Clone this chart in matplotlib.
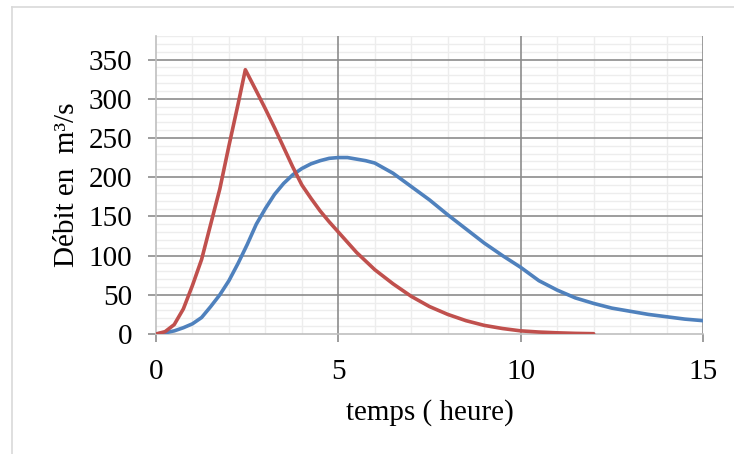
import matplotlib
matplotlib.use("Agg")
import matplotlib.pyplot as plt
from matplotlib.lines import Line2D
from matplotlib.ticker import MultipleLocator

# hydrogramme bleu
t_blue = [0, 0.25, 0.5, 0.75, 1, 1.25, 1.5, 1.75, 2, 2.25, 2.5, 2.75, 3, 3.25,
          3.5, 3.75, 4, 4.25, 4.5, 4.75, 5, 5.25, 5.5, 5.75, 6, 6.5, 7, 7.5,
          8, 8.5, 9, 9.5, 10, 10.5, 11, 11.5, 12, 12.5, 13, 13.5, 14, 14.5, 15]
q_blue = [0, 1.5, 4, 8, 13, 21, 35, 50, 68, 90, 114, 140, 160, 178,
          192, 203, 211, 217, 221, 224, 225, 225, 223, 221, 218, 205, 188, 171,
          152, 134, 116, 100, 85, 68, 56, 46, 39, 33, 29, 25, 22, 19, 17]

# hydrogramme rouge
t_red = [0, 0.25, 0.5, 0.75, 1, 1.25, 1.5, 1.75, 2, 2.25, 2.45, 2.75, 3, 3.25,
         3.5, 3.75, 4, 4.25, 4.5, 4.75, 5, 5.5, 6, 6.5, 7, 7.5, 8, 8.5, 9,
         9.5, 10, 10.5, 11, 11.5, 12]
q_red = [0, 3, 12, 32, 62, 95, 140, 185, 240, 293, 337, 310, 287, 263,
         238, 213, 190, 173, 157, 143, 130, 104, 82, 64, 48, 35, 25, 17, 11,
         7, 4, 2.5, 1.5, 0.8, 0.4]

x_ticks = [0, 5, 10, 15]
y_ticks = [0, 50, 100, 150, 200, 250, 300, 350]

plt.rcParams['font.family'] = ['Liberation Serif', 'DejaVu Serif']

fig = plt.figure(figsize=(7.34, 4.54), dpi=100)
ax = fig.add_axes([156 / 734, 120 / 454, 547 / 734, 298 / 454])

ax.plot(t_blue, q_blue, color='#4F81BD', lw=2.6, solid_joinstyle='round',
        solid_capstyle='round', zorder=3)
ax.plot(t_red, q_red, color='#C0504D', lw=2.6, solid_joinstyle='round',
        solid_capstyle='round', zorder=4)

ax.set_xlim(0, 15)
ax.set_ylim(0, 380)
ax.set_xticks(x_ticks)
ax.set_yticks(y_ticks)
ax.xaxis.set_minor_locator(MultipleLocator(1))
ax.yaxis.set_minor_locator(MultipleLocator(10))

# light minor grid, then the darker major lines on top of it
ax.grid(which='minor', color='#EDEDED', lw=1.0)
ax.grid(which='major', visible=False)
for v in x_ticks[1:]:
    ax.axvline(v, color='#8C8C8C', lw=1.2, zorder=2)
for v in y_ticks[1:]:
    ax.axhline(v, color='#8C8C8C', lw=1.2, zorder=2)

for s in ['top', 'right']:
    ax.spines[s].set_visible(False)
ax.spines['left'].set_color('#BFBFBF')
ax.spines['bottom'].set_color('#BFBFBF')
ax.spines['left'].set_linewidth(1.2)
ax.spines['bottom'].set_linewidth(1.2)

ax.tick_params(which='major', direction='out', length=6, width=1.2,
               color='#8C8C8C', labelsize=21)
ax.tick_params(axis='y', pad=11)
ax.tick_params(axis='x', pad=12)
ax.tick_params(which='minor', length=0)

ax.set_xlabel('temps ( heure)', fontsize=21, labelpad=10)
ax.set_ylabel('Débit en  m³/s', fontsize=21, labelpad=6)

# outer frame of the excel chart
fig.add_artist(Line2D([12 / 734, 1], [1 - 7 / 454, 1 - 7 / 454],
                      color='#D9D9D9', lw=1.2, transform=fig.transFigure))
fig.add_artist(Line2D([12 / 734, 12 / 734], [0, 1 - 7 / 454],
                      color='#D9D9D9', lw=1.2, transform=fig.transFigure))

fig.savefig('out.png', dpi=100)
